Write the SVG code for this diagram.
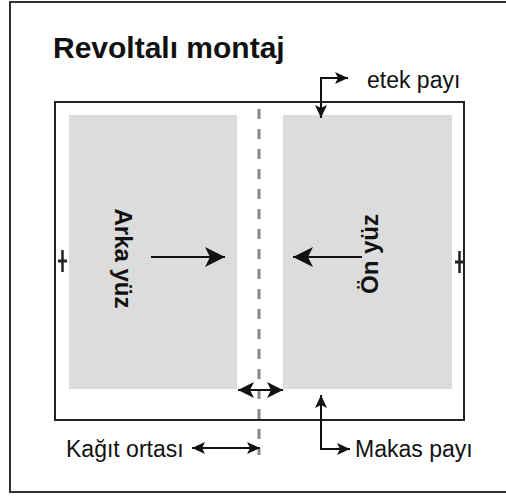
<svg xmlns="http://www.w3.org/2000/svg" width="506" height="496" viewBox="0 0 506 496">
  <defs>
    <style>
      .frame { fill: none; stroke: #333; stroke-width: 2; }
      .sheet { fill: none; stroke: #222; stroke-width: 2; }
      .panel { fill: #dcdcdc; }
      .fold { fill: none; stroke: #888; stroke-width: 3; stroke-dasharray: 10 10; }
      .conn { fill: none; stroke: #111; stroke-width: 2; }
      .tick { fill: none; stroke: #222; }
      .title { font-family: "Liberation Sans", Arial, sans-serif; font-weight: bold; font-size: 30px; fill: #111; }
      .label { font-family: "Liberation Sans", Arial, sans-serif; font-size: 23px; fill: #111; }
      .side { font-family: "Liberation Sans", Arial, sans-serif; font-weight: bold; font-size: 24px; fill: #111; }
    </style>
    <marker id="bigHead" viewBox="-22 -11 24 22" markerWidth="24" markerHeight="22" refX="0" refY="0" orient="auto" markerUnits="userSpaceOnUse">
      <path d="M0,0 L-20,-10 L-15,0 L-20,10 Z" fill="#111"/>
    </marker>
    <marker id="smallHead" viewBox="-14 -7 15 14" markerWidth="15" markerHeight="14" refX="0" refY="0" orient="auto" markerUnits="userSpaceOnUse">
      <path d="M0,0 L-13,-6 L-10,0 L-13,6 Z" fill="#111"/>
    </marker>
    <marker id="smallHeadStart" viewBox="-1 -7 15 14" markerWidth="15" markerHeight="14" refX="0" refY="0" orient="auto" markerUnits="userSpaceOnUse">
      <path d="M0,0 L13,-6 L10,0 L13,6 Z" fill="#111"/>
    </marker>
    <marker id="gutterHead" viewBox="-17 -9 18 18" markerWidth="18" markerHeight="18" refX="0" refY="0" orient="auto" markerUnits="userSpaceOnUse">
      <path d="M0,0 L-16,-8 L-12,0 L-16,8 Z" fill="#111"/>
    </marker>
    <marker id="gutterHeadStart" viewBox="-1 -9 18 18" markerWidth="18" markerHeight="18" refX="0" refY="0" orient="auto" markerUnits="userSpaceOnUse">
      <path d="M0,0 L16,-8 L12,0 L16,8 Z" fill="#111"/>
    </marker>
  </defs>

  <!-- outer frame -->
  <rect class="frame" x="10" y="2" width="520" height="490"/>

  <text class="title" x="53" y="58">Revoltalı montaj</text>

  <!-- press sheet with the two page areas -->
  <g id="sheet">
    <rect class="sheet" x="55" y="102" width="409" height="318"/>
  </g>
  <g id="arka-yuz">
    <rect class="panel" x="69" y="115" width="168" height="274"/>
    <text class="side" transform="translate(115,258.5) rotate(90)" text-anchor="middle">Arka yüz</text>
  </g>
  <g id="on-yuz">
    <rect class="panel" x="283" y="115" width="169" height="274"/>
    <text class="side" transform="translate(378,254) rotate(-90)" text-anchor="middle">Ön yüz</text>
  </g>

  <!-- centre fold line -->
  <g id="fold">
    <line class="fold" x1="259" y1="109" x2="259" y2="455"/>
  </g>

  <!-- side lay marks -->
  <g id="marks">
    <line class="tick" x1="62.5" y1="250" x2="62.5" y2="272" stroke-width="2.5"/>
    <line class="tick" x1="58" y1="261" x2="67" y2="261" stroke-width="3"/>
    <line class="tick" x1="459.5" y1="251" x2="459.5" y2="273" stroke-width="2.5"/>
    <line class="tick" x1="455" y1="262" x2="464" y2="262" stroke-width="3"/>
  </g>

  <!-- labels -->
  <g id="etek-payi">
    <text class="label" x="367" y="88">etek payı</text>
  </g>
  <g id="makas-payi">
    <text class="label" x="355" y="457">Makas payı</text>
  </g>
  <g id="kagit-ortasi">
    <text class="label" x="66" y="457">Kağıt ortası</text>
  </g>

  <!-- connectors -->
  <g id="connectors">
    <line class="conn" x1="151" y1="257" x2="225" y2="257" marker-end="url(#bigHead)"/>
    <line class="conn" x1="362" y1="257" x2="293" y2="257" marker-end="url(#bigHead)"/>
    <polyline class="conn" points="321,118 321,78 348,78" marker-start="url(#smallHeadStart)" marker-end="url(#smallHead)"/>
    <polyline class="conn" points="321,395 321,449 350,449" marker-start="url(#smallHeadStart)" marker-end="url(#smallHead)"/>
    <line class="conn" x1="192" y1="448" x2="260" y2="448" marker-start="url(#smallHeadStart)" marker-end="url(#smallHead)"/>
    <line class="conn" x1="238" y1="390" x2="283" y2="390" stroke-width="1.5" marker-start="url(#gutterHeadStart)" marker-end="url(#gutterHead)"/>
  </g>
</svg>
